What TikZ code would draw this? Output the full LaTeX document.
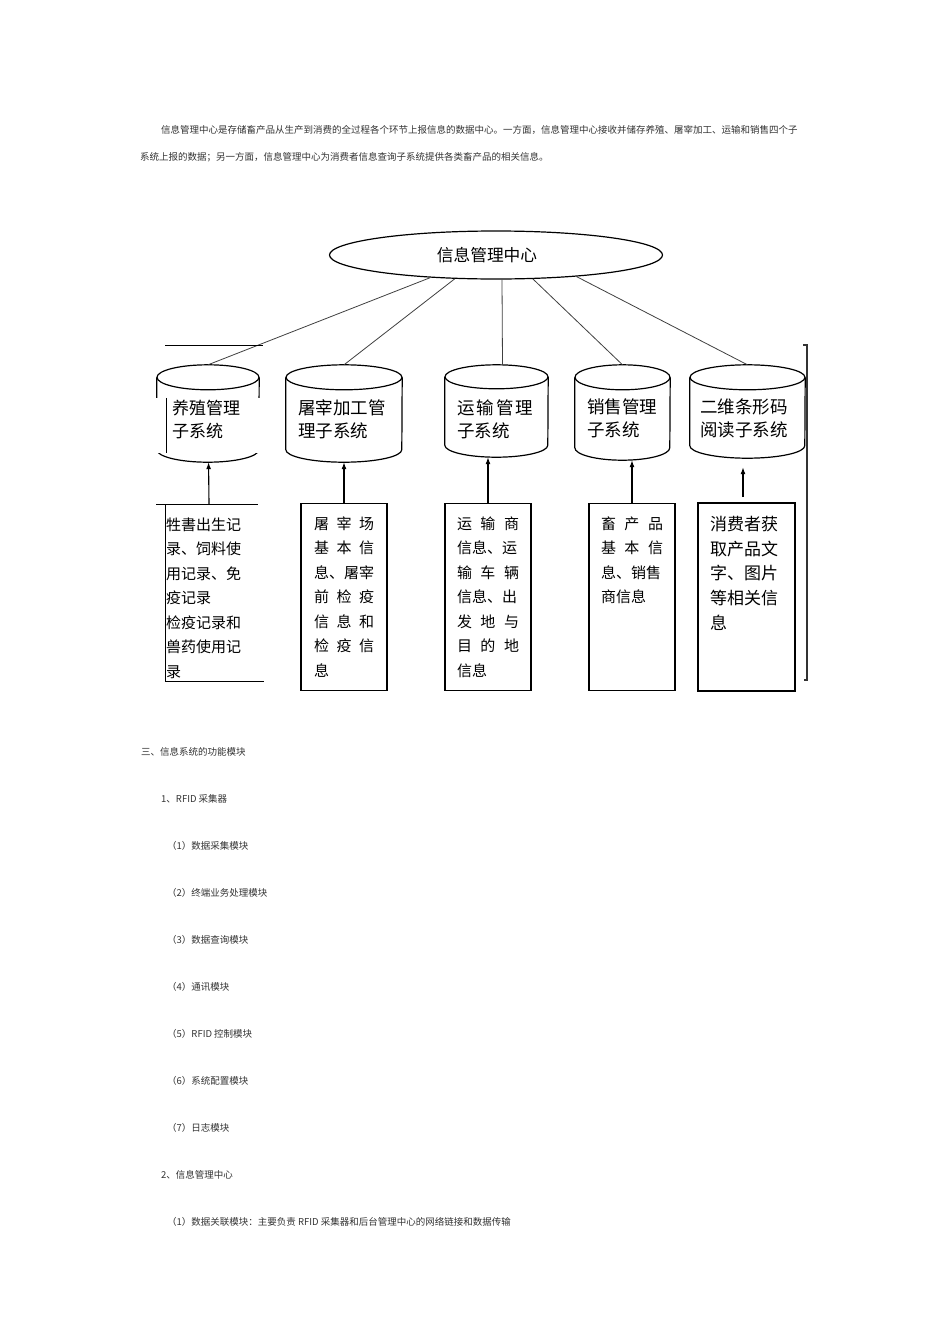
\documentclass[tikz,border=0pt]{standalone}
\usepackage{fontspec}
\setmainfont{Noto Sans CJK SC}
\usetikzlibrary{shapes.geometric, arrows.meta, calc}

\begin{document}
\begin{tikzpicture}[
  x=1pt, y=-1pt,
  texte/.style={anchor=base west, inner sep=0pt, text=black!80,
                font=\fontsize{9.5}{12}\selectfont},
  cuve/.style={inner sep=0pt},
  trait/.style={line width=1.2pt},
  etiq/.style={anchor=base west, inner sep=0pt, align=left,
               font=\fontsize{17.5}{23}\selectfont},
  donnees/.style={draw, line width=1.1pt, anchor=north, align=left,
                  inner xsep=12pt, inner ysep=4pt,
                  text height=21.7pt, text depth=157.3pt,
                  font=\fontsize{15}{24.5}\selectfont},
  lien/.style={line width=0.8pt, black!75},
  fleche/.style={line width=1.1pt, -{Latex[length=7pt,width=5pt]}}
]

  \fill[white] (0,0) rectangle (950,1344);
  \useasboundingbox (0,0) rectangle (950,1344);

  %=========================================================
  % 1. Paragraphe d'introduction
  %=========================================================
  \node[texte] (p1) at (161,133.6)
    {信息管理中心是存储畜产品从生产到消费的全过程各个环节上报信息的数据中心。一方面，信息管理中心接收并储存养殖、屠宰加工、运输和销售四个子};
  \node[texte] (p2) at ([shift={(-21pt,-27pt)}]p1.base west)
    {系统上报的数据；另一方面，信息管理中心为消费者信息查询子系统提供各类畜产品的相关信息。};

  %=========================================================
  % 2. Centre et sous-systemes (cylindres traces a la main)
  %=========================================================
  \node[ellipse, draw, line width=1.2pt, minimum width=333pt,
        minimum height=48pt, inner sep=0pt,
        font=\fontsize{16.7}{20}\selectfont] (C) at (496,255)
    {信息管理中心\hspace*{18pt}};

  \node[cuve, minimum width=102pt, minimum height=97pt] (S1) at (208,413.5) {};
  \node[cuve, minimum width=116pt, minimum height=97pt] (S2) at (344,413.5) {};
  \node[cuve, minimum width=103pt, minimum height=92pt] (S3) at (496.5,411) {};
  \node[cuve, minimum width=95pt, minimum height=95pt] (S4) at (622.5,412.5) {};
  \node[cuve, minimum width=115pt, minimum height=93pt] (S5) at (747.5,411.5) {};

  \draw[trait] ([yshift=-12.5pt]S1.north) ellipse [x radius=51pt, y radius=12.5pt];
  \draw[trait] ([yshift=-12.5pt]S1.north west) -- ([yshift=12.5pt]S1.south west)
    arc[start angle=180, end angle=360, x radius=51pt, y radius=12.5pt]
    -- ([yshift=-12.5pt]S1.north east);
  \draw[trait] ([yshift=-12.5pt]S2.north) ellipse [x radius=58pt, y radius=12.5pt];
  \draw[trait] ([yshift=-12.5pt]S2.north west) -- ([yshift=12.5pt]S2.south west)
    arc[start angle=180, end angle=360, x radius=58pt, y radius=12.5pt]
    -- ([yshift=-12.5pt]S2.north east);
  \draw[trait] ([yshift=-12pt]S3.north) ellipse [x radius=51.5pt, y radius=12pt];
  \draw[trait] ([yshift=-12pt]S3.north west) -- ([yshift=12pt]S3.south west)
    arc[start angle=180, end angle=360, x radius=51.5pt, y radius=12pt]
    -- ([yshift=-12pt]S3.north east);
  \draw[trait] ([yshift=-12.5pt]S4.north) ellipse [x radius=47.5pt, y radius=12.5pt];
  \draw[trait] ([yshift=-12.5pt]S4.north west) -- ([yshift=12.5pt]S4.south west)
    arc[start angle=180, end angle=360, x radius=47.5pt, y radius=12.5pt]
    -- ([yshift=-12.5pt]S4.north east);
  \draw[trait] ([yshift=-12.5pt]S5.north) ellipse [x radius=57.5pt, y radius=12.5pt];
  \draw[trait] ([yshift=-12.5pt]S5.north west) -- ([yshift=12.5pt]S5.south west)
    arc[start angle=180, end angle=360, x radius=57.5pt, y radius=12.5pt]
    -- ([yshift=-12.5pt]S5.north east);

  % --- etiquettes des cuves (la premiere masque le cylindre) ---
  \node[etiq, fill=white, inner xsep=17pt, inner ysep=2pt, text width=74pt,
        text height=14.5pt, text depth=36.5pt,
        font=\fontsize{17}{23}\selectfont] (T1) at (155,414.5)
    {养殖管理\\子系统};
  \draw[line width=1pt] ([xshift=11pt]T1.north west) -- ([xshift=11pt]T1.south west);
  \node[etiq, text width=92pt] (T2) at (298,414.5) {屠宰加工管\\理子系统};
  \node[etiq, text width=76pt] (T3) at (457,414.5)
    {运\hfill 输\hfill 管\hfill 理\\子系统};
  \node[etiq, text width=72pt] (T4) at (587,413.5) {销售管理\\子系统};
  \node[etiq, text width=90pt] (T5) at (700,413.5) {二维条形码\\阅读子系统};

  \draw[lien] (C.199) -- (S1.north);
  \draw[lien] (C.210) -- (S2.north);
  \draw[lien] ([xshift=6pt]C.south) -- ([xshift=6pt]S3.north);
  \draw[lien] (C.327) -- (S4.north);
  \draw[lien] (C.345) -- (S5.north);

  % traits isoles
  \draw[line width=1pt] (165,345) -- (263,345);
  \draw[line width=1.2pt, black!80] (803,345) -- (807,345) -- (807,680) -- (804,680);

  %=========================================================
  % 3. Donnees remontees par chaque sous-systeme
  %=========================================================
  \node[donnees, draw=none, inner xsep=9pt, text width=88pt,
        text depth=146.3pt] (D1) at (210,504)
    {牲書出生记\\录、饲料使\\用记录、免\\疫记录\\检疫记录和\\兽药使用记\\录};
  \draw[line width=1pt] (D1.north west) -- ([xshift=-6pt]D1.north east);
  \draw[line width=1pt] ([xshift=9pt]D1.north west) -- ([xshift=9pt]D1.south west)
    -- (D1.south east);

  \node[donnees, inner xsep=13pt, text width=60pt] (D2) at (344,503)
    {屠\hfill 宰\hfill 场\\基\hfill 本\hfill 信\\息、屠宰\\前\hfill 检\hfill 疫\\
     信\hfill 息\hfill 和\\检\hfill 疫\hfill 信\\息};
  \node[donnees, text width=62pt] (D3) at (488,503)
    {运\hfill 输\hfill 商\\信息、运\\输\hfill 车\hfill 辆\\信息、出\\
     发\hfill 地\hfill 与\\目\hfill 的\hfill 地\\信息};
  \node[donnees, text width=62pt] (D4) at (632,503)
    {畜\hfill 产\hfill 品\\基\hfill 本\hfill 信\\息、销售\\商信息};
  \node[donnees, line width=1.8pt, text width=73pt, text height=23.5pt,
        text depth=156.5pt, font=\fontsize{17}{24.75}\selectfont] (D5) at (746.5,502)
    {消费者获\\取产品文\\字、图片\\等相关信\\息};

  \draw[fleche] (D1) -- (S1);
  \draw[fleche] (D2) -- (S2);
  \draw[fleche] (D3.north) -- (D3.north |- S3.south);
  \draw[fleche] (D4.north) -- (D4.north |- S4.south);
  \draw[fleche] ($(D5.north)+(-3.5pt,5pt)$) -- ($(D5.north |- S5.south)+(-3.5pt,-9pt)$);

  %=========================================================
  % 4. Liste des modules
  %=========================================================
  \node[texte] (l0) at (141,755.9) {三、信息系统的功能模块};
  \node[texte] (l1) at ([shift={(20pt,-47pt)}]l0.base west) {1、RFID 采集器};
  \node[texte] (l2) at ([shift={(6pt,-47pt)}]l1.base west) {（1）数据采集模块};
  \node[texte] (l3) at ([yshift=-47pt]l2.base west) {（2）终端业务处理模块};
  \node[texte] (l4) at ([yshift=-47pt]l3.base west) {（3）数据查询模块};
  \node[texte] (l5) at ([yshift=-47pt]l4.base west) {（4）通讯模块};
  \node[texte] (l6) at ([yshift=-47pt]l5.base west) {（5）RFID 控制模块};
  \node[texte] (l7) at ([yshift=-47pt]l6.base west) {（6）系统配置模块};
  \node[texte] (l8) at ([yshift=-47pt]l7.base west) {（7）日志模块};
  \node[texte] (l9) at ([shift={(-6pt,-47pt)}]l8.base west) {2、信息管理中心};
  \node[texte] (l10) at ([shift={(6pt,-47pt)}]l9.base west)
    {（1）数据关联模块：主要负责 RFID 采集器和后台管理中心的网络链接和数据传输};

\end{tikzpicture}
\end{document}
